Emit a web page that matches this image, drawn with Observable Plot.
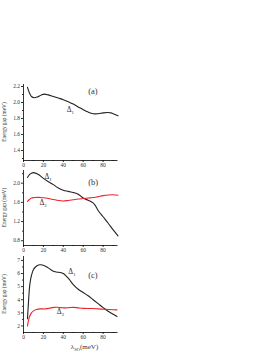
<!DOCTYPE html>
<html>
<head>
<meta charset="utf-8">
<script src="https://cdn.jsdelivr.net/npm/d3@7"></script>
<script src="https://cdn.jsdelivr.net/npm/@observablehq/plot@0.6"></script>
<style>
  html, body { margin: 0; padding: 0; background: #fff; }
  #wrap { position: relative; width: 273px; height: 353px; overflow: hidden; }
  #wrap svg { position: absolute; left: 0; }
  #wrap svg text { font-family: 'Liberation Serif', 'DejaVu Serif', serif !important; }
</style>
</head>
<body>
<div id="wrap"></div>
<script>
// ---- data ----
const xTicks = [0, 20, 40, 60, 80];
const xMinor = [10, 30, 50, 70, 90];

// panel (a)
const lambdaA1 = [4, 6, 8, 11, 14, 18, 21, 25, 30, 35, 40, 45, 50, 55, 60, 65, 70, 75, 80, 85, 88, 92, 95];
const gapA1 = [2.19, 2.12, 2.075, 2.06, 2.07, 2.095, 2.105, 2.095, 2.075, 2.055, 2.035, 2.01, 1.98, 1.945, 1.91, 1.88, 1.86, 1.86, 1.87, 1.875, 1.87, 1.85, 1.835];
const yTicksA = [1.4, 1.6, 1.8, 2.0, 2.2];
const yMinorA = [1.3, 1.5, 1.7, 1.9, 2.1];

// panel (b)
const lambdaB1 = [4, 6, 8, 10, 12, 15, 20, 25, 30, 35, 40, 45, 50, 55, 60, 65, 70, 72, 75, 80, 85, 90, 95];
const gapB1 = [2.12, 2.18, 2.21, 2.22, 2.21, 2.18, 2.10, 2.03, 1.97, 1.90, 1.855, 1.83, 1.805, 1.77, 1.69, 1.645, 1.59, 1.54, 1.43, 1.30, 1.17, 1.03, 0.90];
const lambdaB2 = [4, 6, 8, 11, 15, 20, 25, 30, 35, 40, 45, 50, 55, 60, 65, 70, 75, 80, 85, 90, 95];
const gapB2 = [1.62, 1.66, 1.69, 1.70, 1.705, 1.695, 1.68, 1.66, 1.64, 1.63, 1.64, 1.655, 1.67, 1.68, 1.69, 1.70, 1.72, 1.74, 1.755, 1.76, 1.75];
const yTicksB = [0.8, 1.2, 1.6, 2.0];
const yMinorB = [1.0, 1.4, 1.8, 2.2];

// panel (c)
const lambdaC1 = [4, 5, 6, 7, 8, 10, 12, 15, 19, 24, 29, 33, 37, 40, 43, 46, 50, 55, 60, 65, 70, 75, 80, 85, 90, 94];
const gapC1 = [2.55, 3.8, 4.9, 5.5, 5.85, 6.3, 6.5, 6.65, 6.65, 6.48, 6.22, 6.12, 6.08, 6.0, 5.8, 5.55, 5.15, 4.8, 4.55, 4.3, 4.0, 3.7, 3.4, 3.12, 2.9, 2.72];
const lambdaC2 = [4, 5, 6, 8, 10, 13, 17, 22, 26, 30, 34, 38, 42, 46, 50, 55, 60, 65, 70, 75, 80, 85, 90, 94];
const gapC2 = [2.0, 2.4, 2.7, 3.0, 3.15, 3.25, 3.3, 3.3, 3.35, 3.42, 3.43, 3.4, 3.38, 3.4, 3.42, 3.38, 3.34, 3.33, 3.33, 3.3, 3.28, 3.26, 3.24, 3.23];
const yTicksC = [2, 3, 4, 5, 6, 7];
const yMinorC = [2.5, 3.5, 4.5, 5.5, 6.5];

// annotations: text, subscript, lambda (left/center), gap
const notesA = [{t: "(a)", sub: "", x: 70.3, y: 2.14, s: 8.5, a: "middle"}, {t: "Δ", sub: "1", x: 44, y: 1.91, s: 7.5, a: "start"}];
const notesB = [{t: "(b)", sub: "", x: 70.6, y: 2.02, s: 8.5, a: "middle"}, {t: "Δ", sub: "1", x: 21.6, y: 2.125, s: 7.5, a: "start"}, {t: "Δ", sub: "2", x: 16.6, y: 1.583, s: 7.5, a: "start"}];
const notesC = [{t: "(c)", sub: "", x: 70.3, y: 5.84, s: 8.5, a: "middle"}, {t: "Δ", sub: "1", x: 45.6, y: 6.09, s: 7.5, a: "start"}, {t: "Δ", sub: "2", x: 34, y: 3.04, s: 7.5, a: "start"}];

const black = "#222";
const red = "#e8262b";
const textColor = "#333";
const font = "'Liberation Serif', 'DejaVu Serif', serif";

function zip(xs, ys) { return xs.map((x, i) => ({x, y: ys[i]})); }

function panel({top, height, marginTop, marginBottom, yDomain, yTicks, yMinor, yFormat, series, notes}) {
  const marks = [
    Plot.axisX({ticks: xTicks, tickSize: 2, tickPadding: 0.5, label: null, fontSize: 5.5}),
    Plot.axisX({ticks: xMinor, tickSize: 1, tickFormat: () => "", label: null}),
    Plot.axisY({ticks: yTicks, tickSize: 2, tickPadding: 1.5, tickFormat: yFormat, label: null, fontSize: 5.5}),
    Plot.axisY({ticks: yMinor, tickSize: 1, tickFormat: () => "", label: null}),
    Plot.ruleX([0], {stroke: "#000", strokeWidth: 0.8}),
    Plot.ruleY([yDomain[0]], {stroke: "#000", strokeWidth: 0.8})
  ];
  for (const s of series) {
    marks.push(Plot.line(zip(s.x, s.y), {x: "x", y: "y", stroke: s.color, strokeWidth: 1.1, curve: "catmull-rom"}));
  }
  const svg = Plot.plot({
    width: 125, height, marginLeft: 23, marginRight: 7.5, marginTop, marginBottom,
    x: {domain: [0, 95]},
    y: {domain: yDomain},
    style: {fontFamily: font, fontSize: "5.5px", background: "transparent", overflow: "visible", color: textColor},
    marks
  });
  svg.setAttribute("font-family", font);
  svg.style.top = top + "px";
  const sx = svg.scale("x"), sy = svg.scale("y");
  const sel = d3.select(svg);
  for (const n of notes) {
    const t = sel.append("text")
      .attr("x", sx.apply(n.x)).attr("y", sy.apply(n.y)).attr("dy", "0.35em")
      .attr("text-anchor", n.a).attr("font-size", n.s).attr("fill", textColor);
    t.append("tspan").text(n.t);
    if (n.sub) t.append("tspan").attr("font-size", n.s * 0.65).attr("dy", n.s * 0.25).text(n.sub);
  }
  const cy = (marginTop + height - marginBottom) / 2;
  sel.append("text")
    .attr("transform", `translate(4.3, ${cy}) rotate(-90)`)
    .attr("text-anchor", "middle").attr("dy", "0.35em")
    .attr("font-size", 5.3).attr("fill", textColor)
    .text("Energy gap (meV)");
  document.getElementById("wrap").appendChild(svg);
  return svg;
}

const fmt1 = d => d.toFixed(1);

panel({top: 78, height: 90, marginTop: 6, marginBottom: 8, yDomain: [1.275, 2.225],
  yTicks: yTicksA, yMinor: yMinorA, yFormat: fmt1,
  series: [{x: lambdaA1, y: gapA1, color: black}], notes: notesA});

panel({top: 165, height: 90, marginTop: 5, marginBottom: 10, yDomain: [0.70, 2.265],
  yTicks: yTicksB, yMinor: yMinorB, yFormat: fmt1,
  series: [{x: lambdaB1, y: gapB1, color: black}, {x: lambdaB2, y: gapB2, color: red}], notes: notesB});

const svgC = panel({top: 250, height: 103, marginTop: 6, marginBottom: 21, yDomain: [1.5, 7.3],
  yTicks: yTicksC, yMinor: yMinorC, yFormat: d => String(d),
  series: [{x: lambdaC1, y: gapC1, color: black}, {x: lambdaC2, y: gapC2, color: red}], notes: notesC});

const lab = d3.select(svgC).append("text")
  .attr("x", 84.5).attr("y", 96.7).attr("dy", "0.35em")
  .attr("text-anchor", "middle").attr("font-size", 7).attr("fill", textColor);
lab.append("tspan").text("λ");
lab.append("tspan").attr("font-size", 4.5).attr("dy", "1.5").text("SO");
lab.append("tspan").attr("dy", "-1.5").text("(meV)");
</script>
</body>
</html>
